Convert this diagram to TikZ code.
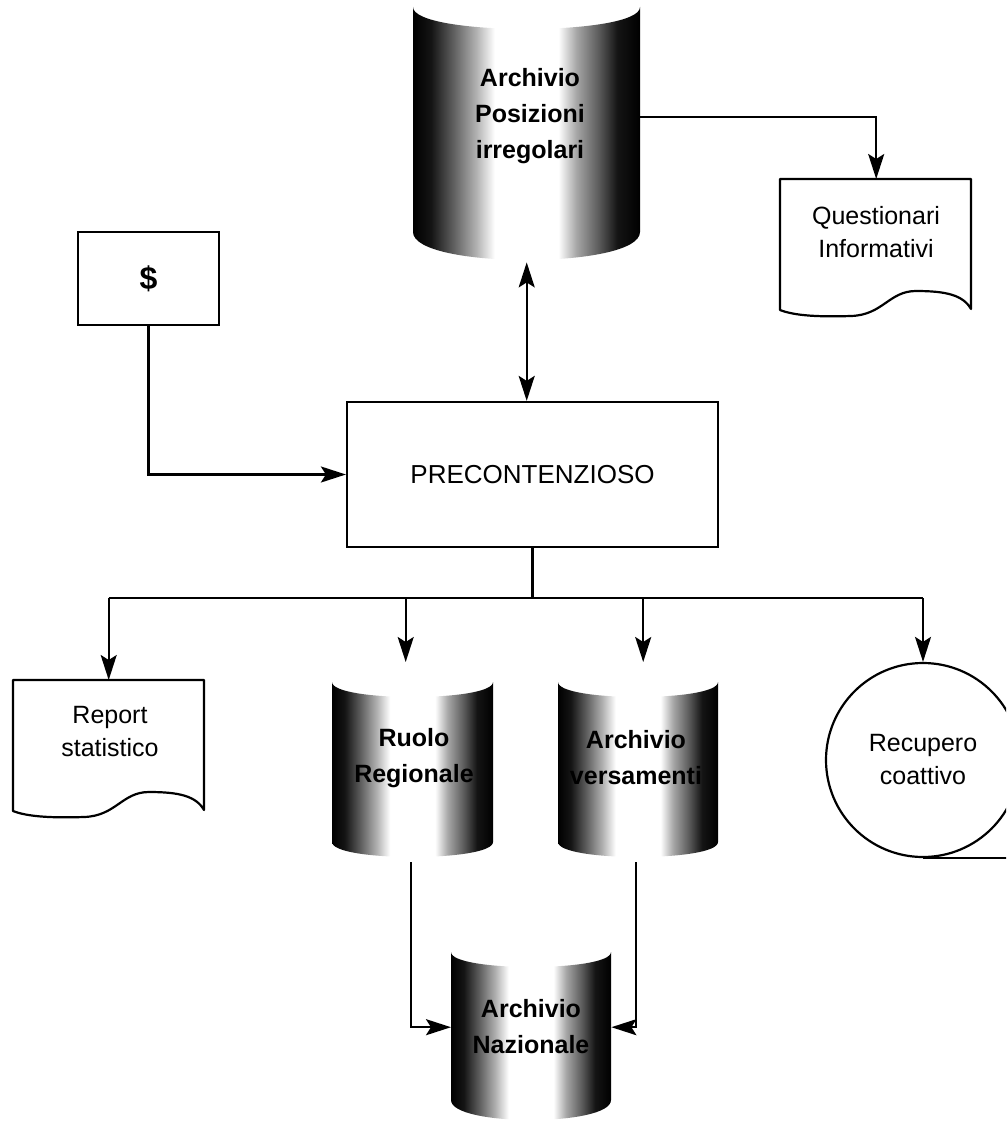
\documentclass[tikz,border=0pt]{standalone}
\usepackage{fontspec}
\setmainfont{Liberation Sans}
\usetikzlibrary{arrows.meta,calc}

% dark rims, light middle: the body of a disk drum
\pgfdeclarehorizontalshading{drum}{100bp}{%
  color(0bp)=(black); color(25bp)=(black); color(29bp)=(black!92);
  color(34bp)=(black!62); color(39bp)=(black!30); color(43bp)=(white);
  color(57bp)=(white); color(61bp)=(black!35); color(66bp)=(black!65);
  color(70bp)=(black!92); color(75bp)=(black); color(100bp)=(black)}

\tikzset{
  wire/.style={line width=2.2pt},
  head/.tip={Stealth[length=25pt,width=16pt,inset=5pt]},
  arr/.style={wire, -head},
  dbl/.style={wire, head-head},
  boxnode/.style={draw, line width=2.2pt, inner sep=0pt, rectangle},
  hole/.style={draw=none, inner sep=0pt, rectangle, anchor=north west},
  lbl/.style={font=\fontsize{25}{33}\selectfont, align=center, inner sep=0pt},
  dblbl/.style={font=\bfseries\fontsize{25}{36}\selectfont, align=center, inner sep=0pt},
}

% drum: left, right, top, bottom, top dip, bottom bulge
\newcommand\drumshape[6]{%
  \shade[shading=drum] (#1,#3) .. controls (#1,{#3+4/3*#5}) and (#2,{#3+4/3*#5}) .. (#2,#3)
    -- (#2,#4) .. controls (#2,{#4+4/3*#6}) and (#1,{#4+4/3*#6}) .. (#1,#4) -- cycle;}

% printed sheet with a wavy lower edge, placed by its top left corner
\newcommand\sheetshape[2]{%
  \begin{scope}[shift={(#1,#2)}]
    \draw[line width=2.2pt, line join=round] (0,0) -- (191,0) -- (191,130)
      .. controls (183,116) and (166,112) .. (136,112)
      .. controls (109,112) and (103,136) .. (71,137)
      .. controls (41,138) and (15,137) .. (0,131) -- cycle;
  \end{scope}}

\begin{document}
\begin{tikzpicture}[x=1pt,y=-1pt]
  \useasboundingbox (0,0) rectangle (1006,1126);
  \clip (0,0) rectangle (1006,1126);

  % drums
  \drumshape{413}{640}{7}{232}{22}{28}
  \node[hole, minimum width=227pt, minimum height=253pt] (api) at (413,7) {};
  \node[dblbl] (api-t) at (530,116) {Archivio\\Posizioni\\irregolari};

  \drumshape{332}{493}{682}{842}{15}{15}
  \node[hole, minimum width=161pt, minimum height=175pt] (ruolo) at (332,682) {};
  \node[dblbl] (ruolo-t) at (414,758) {Ruolo\\Regionale};

  \drumshape{558}{718}{682}{842}{15}{15}
  \node[hole, minimum width=160pt, minimum height=175pt] (vers) at (558,682) {};
  \node[dblbl] (vers-t) at (636,758) {Archivio\\versamenti};

  \drumshape{451}{611}{952}{1100}{15}{20}
  \node[hole, minimum width=160pt, minimum height=170pt] (naz) at (451,952) {};
  \node[dblbl] (naz-t) at (531,1027) {Archivio\\Nazionale};

  % sheets
  \sheetshape{780}{179}
  \node[hole, minimum width=192pt, minimum height=137pt] (quest) at (780,179) {};
  \node[lbl] (quest-t) at (876,232) {Questionari\\Informativi};

  \sheetshape{13}{680}
  \node[hole, minimum width=191pt, minimum height=137pt] (report) at (13,680) {};
  \node[lbl] (report-t) at (110,732) {Report\\statistico};

  % boxes
  \node[boxnode, minimum width=141pt, minimum height=93pt,
        font=\bfseries\fontsize{32}{36}\selectfont] (cash) at (148.5,278.5) {\$};
  \node[boxnode, minimum width=371pt, minimum height=145pt,
        font=\fontsize{26}{30}\selectfont] (pre) at (532.5,474.5) {PRECONTENZIOSO};

  % tape reel
  \node[draw, circle, line width=2.2pt, minimum size=194pt, lbl] (recup) at (923,760) {Recupero\\coattivo};
  \draw[line width=2.2pt] (recup.south) -- ++(100,0);

  % connectors
  \draw[arr] (cash.south) |- (pre.west);
  \draw[dbl] ([yshift=-2pt]api.south) -- (api.south |- pre.north);
  \draw[arr] ([yshift=17pt]api.east) -| (quest.north);

  \coordinate (fan) at (533,598);
  \draw[wire] (pre.south) -- (pre.south |- fan);
  \draw[wire] (report.north |- fan) -- (recup.north |- fan);
  \draw[arr] (report.north |- fan) -- (report.north);
  \draw[arr] ([xshift=-7pt]ruolo.north |- fan) -- ([xshift=-7pt,yshift=20pt]ruolo.north);
  \draw[arr] ([xshift=5pt]vers.north |- fan) -- ([xshift=5pt,yshift=20pt]vers.north);
  \draw[arr] (recup.north |- fan) -- (recup.north);

  \draw[arr] ([xshift=-1.5pt,yshift=-5pt]ruolo.south) |- ([yshift=10pt]naz.west);
  \draw[arr] ([xshift=-2pt,yshift=-5pt]vers.south) |- ([yshift=10pt]naz.east);
\end{tikzpicture}
\end{document}
